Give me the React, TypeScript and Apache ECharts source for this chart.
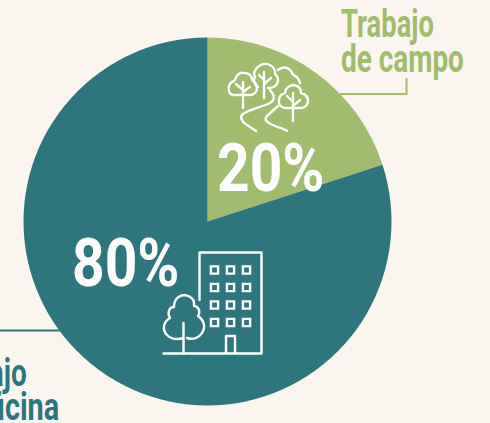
import React, { useEffect, useRef } from "react";
import * as echarts from "echarts";

const categories = ["Trabajo de campo", "Trabajo de oficina"];
const values = [20, 80];
const colors = ["#a1bc6c", "#2d767e"];
const background = "#faf5ee";
const fieldLines = ["Trabajo", "de campo"];
const officeLines = ["Trabajo", "de oficina"];
const FONT = 'Roboto, sans-serif';

const iconPaths: Record<string, string> = {
  treeA:
    "M243 108V82M243 90L236 84M243 92L250 87M243 95H234C229 95 228 90 229 86C230 82 234 81 235 80C236 75 240 72 244 73C249 73 252 76 252 80C255 81 257 85 257 88C257 92 254 95 250 95H243",
  treeB:
    "M264 98V72M264 84L271 78M264 80L259 75M258 87C254 85 253 80 255 77C252 72 258 65 264 64C270 63 276 68 275 74C279 77 279 83 275 86C273 88 270 88 268 88",
  treeC:
    "M278 70C283 66 288 67 291 71C292 74 293 75 295 76C298 77 299 80 300 83",
  treeD:
    "M293 121V93M293 102L287 96M293 106L300 100M293 108H285C281 108 278 104 279 100C279 96 282 94 285 93C285 88 290 85 294 85C299 86 301 89 301 93C305 94 308 97 308 101C308 105 305 108 301 108H293",
  riverA:
    "M270 90C275 95 275 100 270 103C262 107 250 109 243 114C239 117 242 122 247 125C250 127 253 129 256 131",
  riverB:
    "M278 106L267 116C263 120 268 123 273 125C279 128 285 129 287 131",
  building:
    "M199.5 300V252.5H261.5V353.5M163.5 353.5H261.5M226 353.5V336H235V353.5",
  cityTree:
    "M183.5 353.5V323M183.5 338C177 340 171 339 167 335C162 330 163 322 170 318C167 313 169 307 174 307C174 298 180 295 185 295C191 296 195 300 194 306C198 306 201 311 198 316C204 320 206 327 202 333C199 338 193 340 187 338",
};

const windowCols = [214.5, 230.5, 246.5];
const windowRows = [270, 287.5, 305, 322.5];

Object.entries(iconPaths).forEach(([name, d]) => {
  echarts.graphic.registerShape(name, echarts.graphic.extendPath(d as any, {}) as any);
});

export default function App() {
  const ref = useRef<HTMLDivElement>(null);
  useEffect(() => {
    const chart = echarts.init(ref.current!, null, { renderer: "svg" });
    const icon = (name: string) => ({
      type: name,
      x: 0,
      y: 0,
      z: 10,
      silent: true,
      style: { fill: "none", stroke: "#ffffff", lineWidth: 2.4, lineCap: "round", lineJoin: "round" },
    });
    const windows = windowRows.flatMap((cy) =>
      windowCols.map((cx) => ({
        type: "rect",
        z: 10,
        silent: true,
        shape: { x: cx - 3.6, y: cy - 3.6, width: 7.2, height: 7.2 },
        style: { fill: "none", stroke: "#ffffff", lineWidth: 2.4 },
      }))
    );
    const text = (t: string, x: number, baseline: number, size: number, sx: number, fill: string) => ({
      type: "text",
      x,
      y: baseline - 0.81 * size,
      z: 10,
      scaleX: sx,
      silent: true,
      style: {
        text: t,
        fill,
        font: `bold ${size}px ${FONT}`,
        align: "left",
        verticalAlign: "top",
      },
    });
    chart.setOption({
      animation: false,
      backgroundColor: background,
      series: [
        {
          type: "pie",
          silent: true,
          center: [207.5, 221.5],
          radius: [0, 184],
          startAngle: 90,
          clockwise: true,
          label: { show: false },
          labelLine: { show: false },
          data: categories.map((name, i) => ({
            name,
            value: values[i],
            itemStyle: { color: colors[i] },
          })),
        },
      ],
      graphic: [
        {
          type: "polyline",
          z: 1,
          silent: true,
          shape: { points: [[340, 94], [406.5, 94], [406.5, 78]] },
          style: { fill: "none", stroke: colors[0], lineWidth: 2 },
        },
        {
          type: "line",
          z: 1,
          silent: true,
          shape: { x1: 0, y1: 330.5, x2: 60, y2: 330.5 },
          style: { stroke: colors[1], lineWidth: 2 },
        },
        text(fieldLines[0], 341, 36, 38, 0.72, colors[0]),
        text(fieldLines[1], 341, 71, 38, 0.735, colors[0]),
        text(officeLines[0], -68, 385, 38, 0.735, colors[1]),
        text(officeLines[1], -68, 419, 38, 0.76, colors[1]),
        text(`${values[0]}%`, 217, 189, 67, 0.85, "#ffffff"),
        text(`${values[1]}%`, 72, 284, 67, 0.85, "#ffffff"),
        ...Object.keys(iconPaths).map(icon),
        ...windows,
      ],
    });
    return () => chart.dispose();
  }, []);
  return <div ref={ref} style={{ position: "absolute", left: 0, top: 0, width: 490, height: 423 }} />;
}
